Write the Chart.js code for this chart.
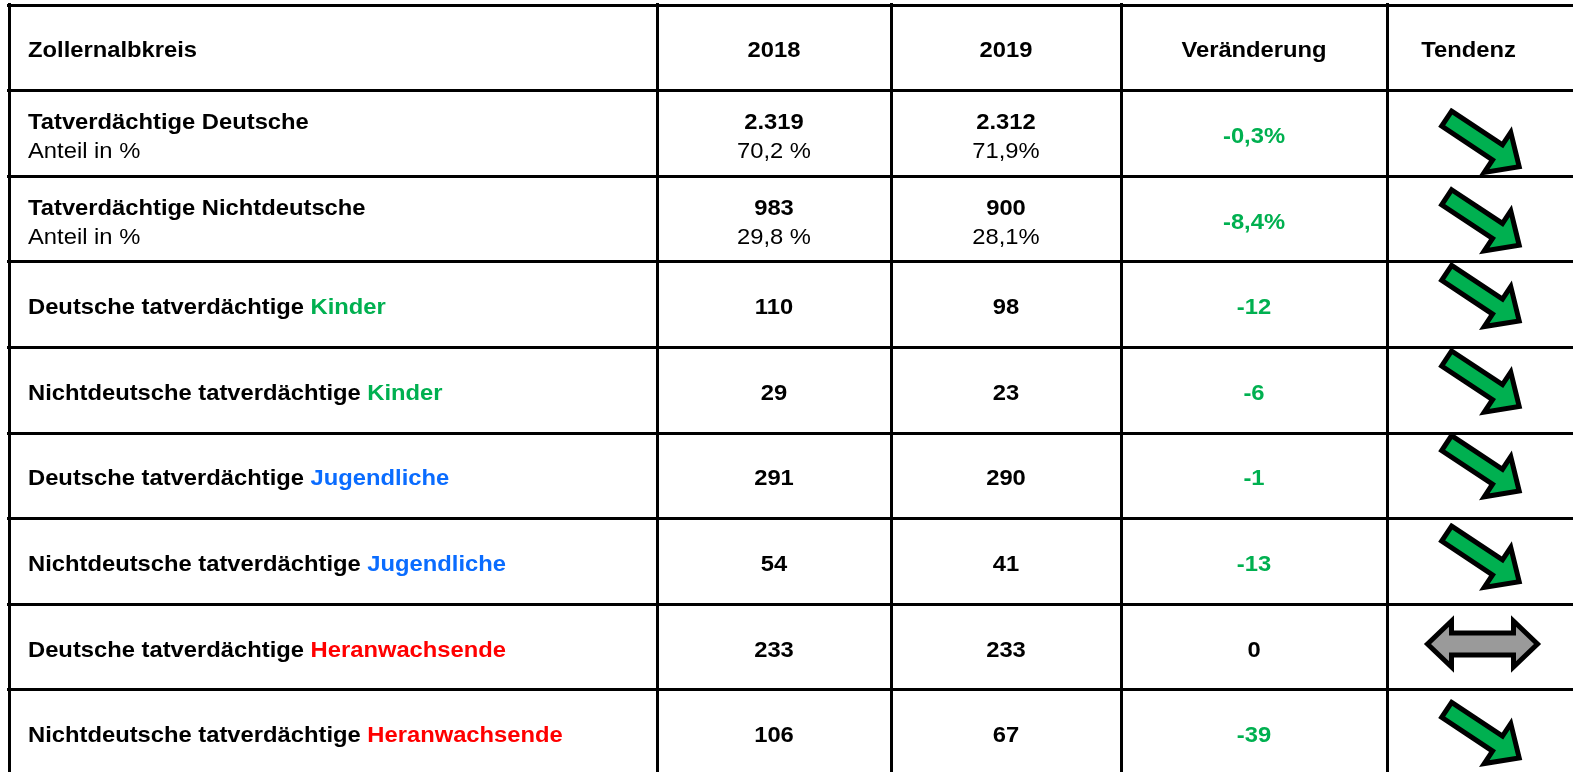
<!DOCTYPE html>
<html>
<head>
<meta charset="utf-8">
<script src="https://cdn.jsdelivr.net/npm/chart.js@4"></script>
<style>
  html, body { margin: 0; background: #fff; }
  canvas { display: block; }
</style>
</head>
<body>
<canvas id="tbl" width="1573" height="772"></canvas>
<script>
// table content
const headers = ['Zollernalbkreis', '2018', '2019', 'Veränderung', 'Tendenz'];
const rowNames = ['Tatverdächtige Deutsche', 'Tatverdächtige Nichtdeutsche', 'Deutsche tatverdächtige', 'Nichtdeutsche tatverdächtige',
  'Deutsche tatverdächtige', 'Nichtdeutsche tatverdächtige', 'Deutsche tatverdächtige', 'Nichtdeutsche tatverdächtige'];
const ageGroups = [null, null, 'Kinder', 'Kinder', 'Jugendliche', 'Jugendliche', 'Heranwachsende', 'Heranwachsende'];
const values2018 = [2319, 983, 110, 29, 291, 54, 233, 106];
const values2019 = [2312, 900, 98, 23, 290, 41, 233, 67];
const shares2018 = ['70,2 %', '29,8 %'];
const shares2019 = ['71,9%', '28,1%'];
const changes = [-0.3, -8.4, -12, -6, -1, -13, 0, -39];
const changeUnits = ['%', '%', '', '', '', '', '', ''];

// layout / style
const GREEN = '#00b050';
const groupColors = { Kinder: GREEN, Jugendliche: '#0a6cff', Heranwachsende: '#ff0000' };
const colEdges = [9, 657, 891, 1121, 1387];
const tableTop = 5, rowH = 85.6, padTop = 3, padLeft = 7;
const arrowShift = [9, 2, -8, -8, -9, -4, -3, 1];
const FONT = '"Liberation Sans", Arial, sans-serif';
const FSIZE = 22;
const SX = 1.08; // slide text is stretched horizontally

const yMin = -0.5 - (tableTop - padTop) / rowH;
const yMax = yMin + (772 - padTop) / rowH;

const fmt = n => n >= 1000 ? Math.floor(n / 1000) + '.' + String(n % 1000).padStart(3, '0') : String(n);
const seg = (text, bold, color) => ({ text, bold, color: color || '#000' });

const colCenter = c => (colEdges[c] + (colEdges[c + 1] || 1550)) / 2;

// cells per column, header first
const labelCells = [[[seg(headers[0], true)]]].concat(rowNames.map((n, i) => {
  const first = ageGroups[i]
    ? [seg(n + ' ', true), seg(ageGroups[i], true, groupColors[ageGroups[i]])]
    : [seg(n, true)];
  return i < 2 ? [first, [seg('Anteil in %', false)]] : [first];
}));
const yearCells = (hdr, vals, shares) => [[[seg(hdr, true)]]].concat(vals.map((v, i) =>
  shares[i] ? [[seg(fmt(v), true)], [seg(shares[i], false)]] : [[seg(fmt(v), true)]]));
const changeCells = [[[seg(headers[3], true)]]].concat(changes.map((v, i) =>
  [[seg(String(v).replace('.', ',') + changeUnits[i], true, v < 0 ? GREEN : '#000')]]));
const trendCells = [[[seg(headers[4], true)]]].concat(changes.map((v, i) =>
  ({ arrow: v < 0 ? 'down' : 'flat', shift: arrowShift[i] })));

const rows = values2018.length + 1;
const points = xFn => Array.from({ length: rows }, (_, i) => ({ x: xFn(i), y: i }));

const datasets = [
  { label: headers[0], data: points(() => colEdges[0] + 19), cells: labelCells, align: 'left' },
  { label: headers[1], data: points(() => colCenter(1)), cells: yearCells(headers[1], values2018, shares2018), align: 'center' },
  { label: headers[2], data: points(() => colCenter(2)), cells: yearCells(headers[2], values2019, shares2019), align: 'center' },
  { label: headers[3], data: points(() => colCenter(3)), cells: changeCells, align: 'center' },
  { label: headers[4], data: points(i => i === 0 ? colCenter(4) : colCenter(4) + 14), cells: trendCells, align: 'center' }
];

function drawCell(ctx, x, y, lines, align) {
  const bases = lines.length === 1 ? [y + 9.5] : [y - 4, y + 25];
  lines.forEach((line, li) => {
    let w = 0;
    line.forEach(s => {
      ctx.font = (s.bold ? 'bold ' : '') + FSIZE + 'px ' + FONT;
      w += ctx.measureText(s.text).width * SX;
    });
    let cx = align === 'left' ? x : x - w / 2;
    line.forEach(s => {
      ctx.font = (s.bold ? 'bold ' : '') + FSIZE + 'px ' + FONT;
      ctx.fillStyle = s.color;
      ctx.save();
      ctx.translate(cx, bases[li]);
      ctx.scale(SX, 1);
      ctx.textBaseline = 'alphabetic';
      ctx.textAlign = 'left';
      ctx.fillText(s.text, 0, 0);
      ctx.restore();
      cx += ctx.measureText(s.text).width * SX;
    });
  });
}

function drawArrow(ctx, x, y, kind) {
  ctx.save();
  ctx.translate(x, y);
  let p;
  if (kind === 'down') {
    ctx.rotate(Math.atan2(47, 71));
    p = [[-43, -9], [18, -9], [18, -24], [44, 0], [18, 24], [18, 9], [-43, 9]];
    ctx.fillStyle = GREEN;
  } else {
    p = [[-55, 0], [-31, -23], [-31, -11], [31, -11], [31, -23], [55, 0], [31, 23], [31, 11], [-31, 11], [-31, 23]];
    ctx.fillStyle = '#9a9a9a';
  }
  ctx.beginPath();
  p.forEach((q, i) => i ? ctx.lineTo(q[0], q[1]) : ctx.moveTo(q[0], q[1]));
  ctx.closePath();
  ctx.fill();
  ctx.lineWidth = 5;
  ctx.lineJoin = 'miter';
  ctx.strokeStyle = '#000';
  ctx.stroke();
  ctx.restore();
}

const tablePlugin = {
  id: 'tableCells',
  afterDatasetsDraw(chart) {
    const ctx = chart.ctx;
    chart.data.datasets.forEach((ds, di) => {
      chart.getDatasetMeta(di).data.forEach((pt, i) => {
        const cell = ds.cells[i];
        if (cell.arrow) drawArrow(ctx, pt.x, pt.y + cell.shift, cell.arrow);
        else drawCell(ctx, pt.x, pt.y, cell, ds.align);
      });
    });
  }
};

const gridOpts = { color: '#000', lineWidth: 3, drawTicks: false };

new Chart(document.getElementById('tbl'), {
  type: 'scatter',
  data: { datasets },
  options: {
    responsive: false,
    animation: false,
    events: [],
    layout: { padding: { left: padLeft, top: padTop, right: 0, bottom: 0 } },
    elements: { point: { radius: 0, hoverRadius: 0 } },
    plugins: { legend: { display: false }, tooltip: { enabled: false } },
    scales: {
      x: {
        type: 'linear', min: padLeft, max: 1573,
        afterBuildTicks: s => { s.ticks = colEdges.map(v => ({ value: v })); },
        grid: gridOpts, ticks: { display: false }, border: { display: false }
      },
      y: {
        type: 'linear', reverse: true, min: yMin, max: yMax,
        afterBuildTicks: s => { s.ticks = Array.from({ length: rows }, (_, i) => ({ value: i - 0.5 })); },
        grid: gridOpts, ticks: { display: false }, border: { display: false }
      }
    }
  },
  plugins: [tablePlugin]
});
</script>
</body>
</html>
